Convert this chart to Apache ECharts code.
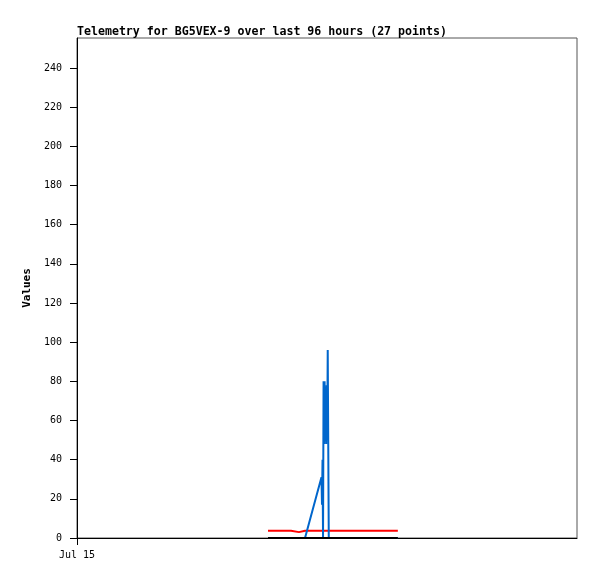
<!DOCTYPE html>
<html>
<head>
<meta charset="utf-8">
<script src="https://cdn.jsdelivr.net/npm/echarts@6/dist/echarts.min.js"></script>
<style>html,body{margin:0;padding:0;background:#fff}#c{width:597px;height:579px}</style>
</head>
<body>
<div id="c"></div>
<script>
// hours since start of the 96 h window (Jul 15 00:00)
var hours = [36.67, 41.09, 41.47, 42.62, 42.82, 43.78, 46.94, 47.04, 47.14, 47.24,
             47.34, 47.44, 47.54, 47.64, 47.74, 47.84, 47.94, 48.04, 48.14, 48.24,
             48.34, 49.5, 52.0, 55.0, 57.5, 59.5, 61.6];
var redValues = [3.7, 3.7, 2.7, 3.0, 3.7, 3.7, 3.7, 3.7, 3.7, 3.7,
                 3.7, 3.7, 3.7, 3.7, 3.7, 3.7, 3.7, 3.7, 3.7, 3.7,
                 3.7, 3.7, 3.7, 3.7, 3.7, 3.7, 3.7];
var blackValues = [0, 0, 0, 0, 0, 0, 0, 0, 0, 0,
                   0, 0, 0, 0, 0, 0, 0, 0, 0, 0,
                   0, 0, 0, 0, 0, 0, 0];
var blueValues = [0, 0, 0, 0, 0, 0, 31, 17, 40, 0,
                  80, 48, 80, 50, 72, 48, 78, 50, 96, 48,
                  0, 0, 0, 0, 0, 0, 0];
var xTickValues = [0];
var xTickLabels = ['Jul 15'];
var titleText = 'Telemetry for BG5VEX-9 over last 96 hours (27 points)';

function pairs(vals) { return hours.map(function (h, i) { return [h, vals[i]]; }); }

var chart = echarts.init(document.getElementById('c'), null, {renderer: 'canvas'});
var mono = 'DejaVu Sans Mono';
chart.setOption({
  animation: false,
  backgroundColor: '#ffffff',
  title: {
    text: titleText, left: 72, top: 21,
    textStyle: {fontFamily: mono, fontSize: 11.6, fontWeight: 'bold', color: '#000'}
  },
  grid: {left: 77, right: 20, top: 38, bottom: 41, show: true, borderColor: '#555', borderWidth: 1, backgroundColor: 'transparent'},
  xAxis: {
    type: 'value', min: 0, max: 96, interval: 96,
    axisLine: {show: true, onZero: false, lineStyle: {color: '#000', width: 1}},
    axisTick: {show: true, length: 7, customValues: xTickValues, lineStyle: {color: '#000', width: 1}},
    axisLabel: {
      customValues: xTickValues, margin: 12, color: '#000', fontFamily: mono, fontSize: 10,
      formatter: function (v) { var i = xTickValues.indexOf(v); return i >= 0 ? xTickLabels[i] : ''; }
    },
    splitLine: {show: false}
  },
  yAxis: {
    type: 'value', min: 0, max: 255.3, interval: 20,
    name: 'Values', nameLocation: 'middle', nameGap: 39, nameRotate: 90,
    nameTextStyle: {fontFamily: mono, fontSize: 11, fontWeight: 'bold', color: '#000'},
    axisLine: {show: true, lineStyle: {color: '#000', width: 1}},
    axisTick: {show: true, length: 7, lineStyle: {color: '#000'}},
    axisLabel: {
      margin: 15, color: '#000', fontFamily: mono, fontSize: 10, showMaxLabel: false,
      formatter: function (v) { return (v % 20 === 0 && v <= 240) ? String(v) : ''; }
    },
    splitLine: {show: false}
  },
  series: [
    {type: 'line', data: pairs(redValues), symbol: 'none', lineStyle: {color: '#ff0000', width: 2}},
    {type: 'line', data: pairs(blueValues), symbol: 'none', lineStyle: {color: '#0066cc', width: 2}},
    {type: 'line', data: pairs(blackValues), symbol: 'none', lineStyle: {color: '#000000', width: 2}}
  ]
});
</script>
</body>
</html>
